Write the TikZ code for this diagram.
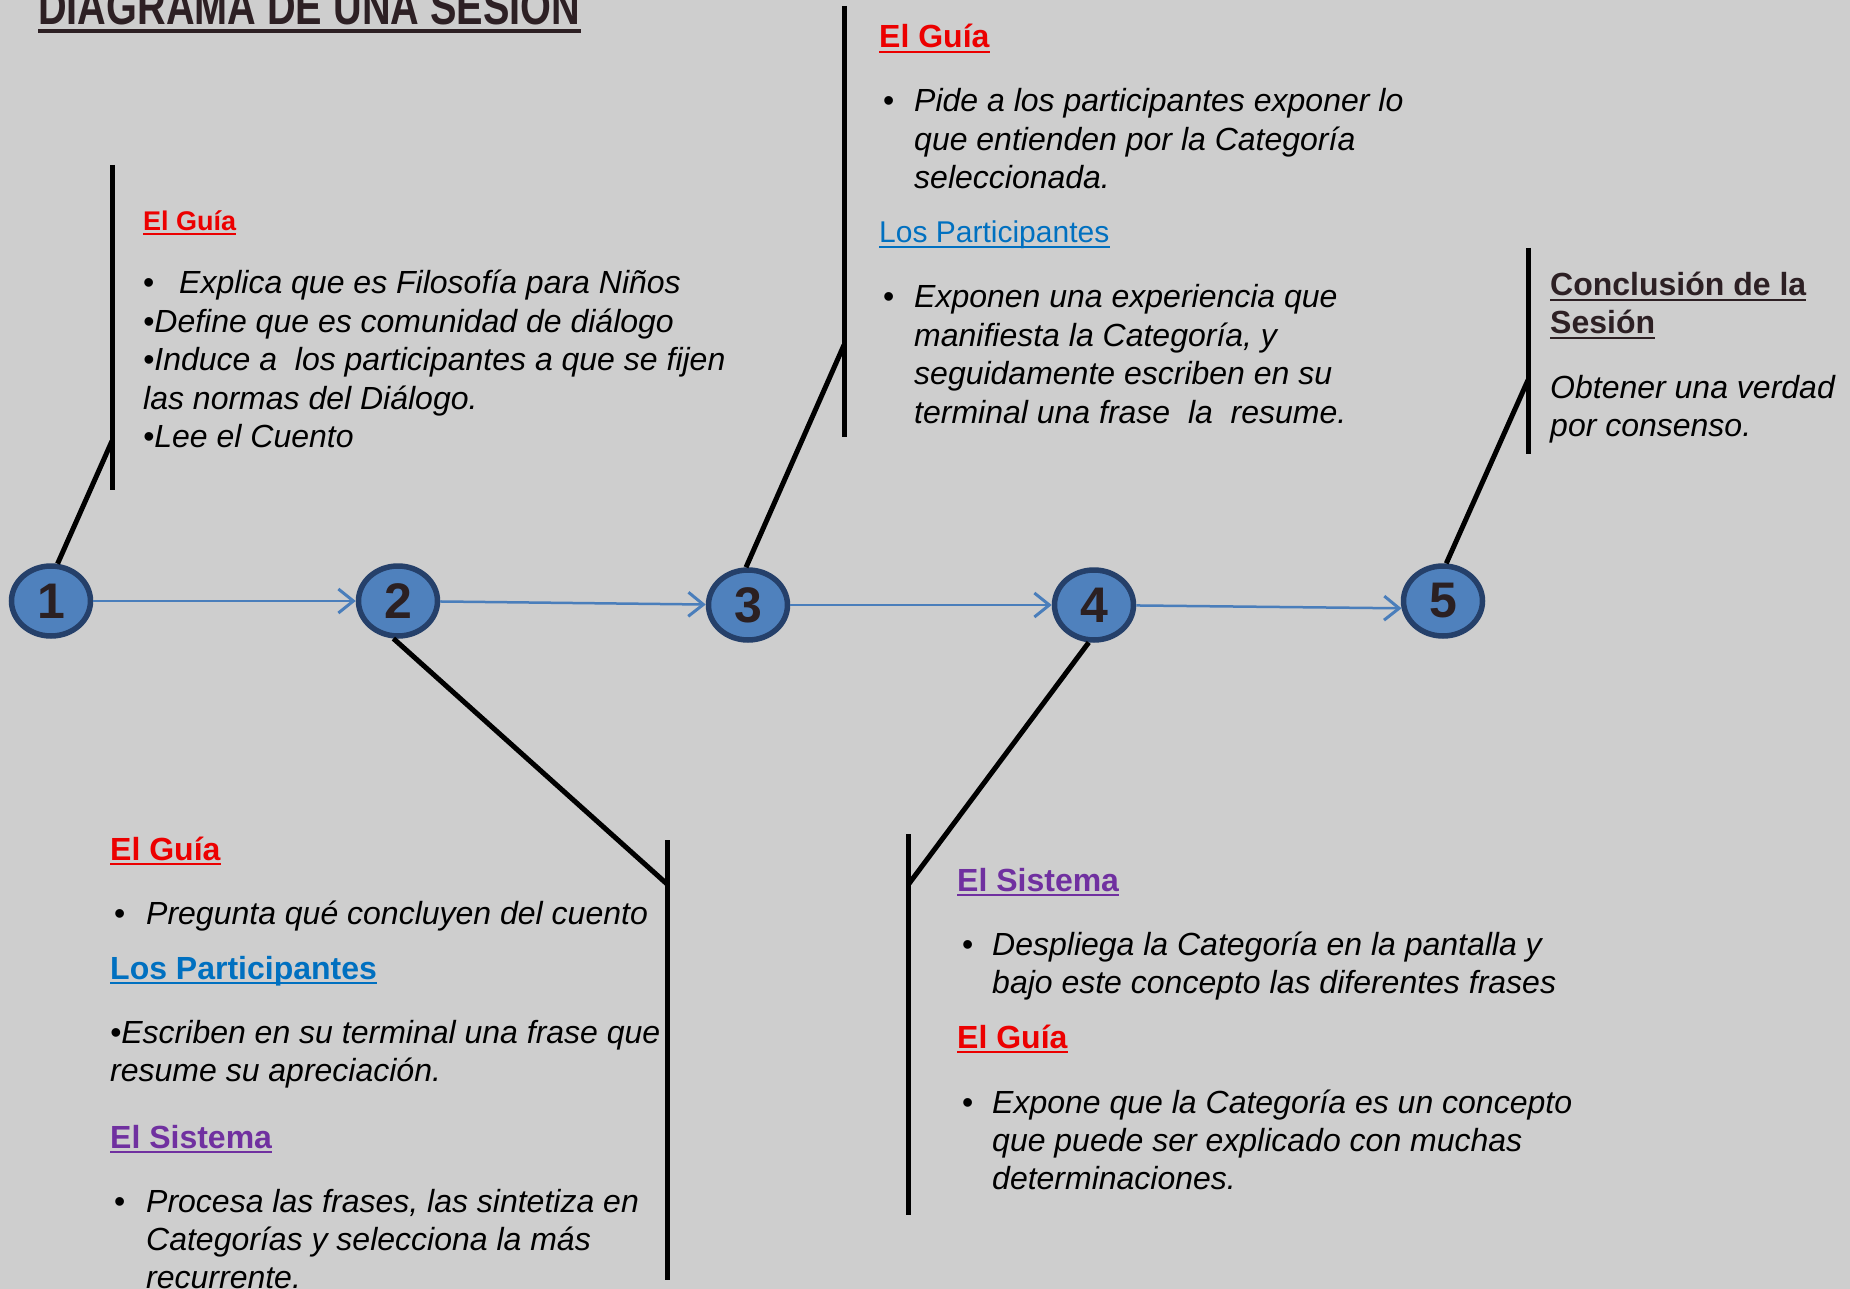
\documentclass[tikz,border=0pt]{standalone}
\usepackage{fontspec}
\usepackage{graphicx}
\setmainfont{Liberation Sans}
\usetikzlibrary{arrows.meta,shapes.geometric}
\definecolor{bg}{RGB}{206,206,206}
\definecolor{cfill}{RGB}{79,129,189}
\definecolor{cedge}{RGB}{37,64,106}
\definecolor{flowc}{RGB}{74,126,187}
\definecolor{numc}{RGB}{43,32,34}
\definecolor{hred}{RGB}{236,0,0}
\definecolor{hblue}{RGB}{0,112,192}
\definecolor{hpurple}{RGB}{112,48,160}
\definecolor{hdark}{RGB}{45,32,36}
\begin{document}
\begin{tikzpicture}[x=1pt,y=-1pt,
  stepnode/.style={ellipse, draw=cedge, line width=5.5pt, fill=cfill, minimum width=79pt, minimum height=70pt, inner sep=0pt, text=numc, font=\fontsize{50}{50}\selectfont\bfseries},
  flow/.style={draw=flowc, line width=2.5pt, -{Straight Barb[length=15pt,width=24pt,line width=3pt]}},
  stem/.style={draw=black, line width=5pt},
  body/.style={anchor=base west, inner sep=0pt, text=black, font=\fontsize{32}{38}\selectfont\itshape},
  bul/.style={anchor=base west, inner sep=0pt, text=black, font=\fontsize{32}{38}\selectfont},
  head/.style={anchor=base west, inner sep=0pt, font=\fontsize{32}{38}\selectfont\bfseries},
  uline/.style={line width=2.5pt}
]
\useasboundingbox (0,0) rectangle (1850,1289);
\fill[bg] (0,0) rectangle (1850,1289);
\clip (0,0) rectangle (1850,1289);

% title
\node[anchor=base west, inner sep=0pt, text=hdark] (title) at (38,25) {\resizebox{542pt}{36pt}{\bfseries DIAGRAMA DE UNA SESION}};
\draw[hdark, line width=3.5pt] ([yshift=-6pt]title.base west) -- ([yshift=-6pt]title.base east);

% steps
\node[stepnode] (c1) at (51,601) {1};
\node[stepnode] (c2) at (398,601) {2};
\node[stepnode] (c3) at (748,605) {3};
\node[stepnode] (c4) at (1094,605) {4};
\node[stepnode] (c5) at (1443,601) {5};

\draw[flow] (c1) -- (c2);
\draw[flow] (c2) -- (c3);
\draw[flow] (c3) -- (c4);
\draw[flow] (c4) -- (c5.190);

% stems
\coordinate (t1) at (112,165); \coordinate (b1) at (112,490); \coordinate (j1) at (112,441);
\coordinate (t2) at (667,840); \coordinate (b2) at (667,1280); \coordinate (j2) at (667,884);
\coordinate (t3) at (844,6);   \coordinate (b3) at (844,437); \coordinate (j3) at (844,345);
\coordinate (t4) at (908,834); \coordinate (b4) at (908,1215); \coordinate (j4) at (908,885);
\coordinate (t5) at (1528,248); \coordinate (b5) at (1528,454); \coordinate (j5) at (1528,380);
\draw[stem] (t1) -- (b1); \draw[stem] (c1.80) -- (j1);
\draw[stem] (t2) -- (b2); \draw[stem] (c2.-97) -- (j2);
\draw[stem] (t3) -- (b3); \draw[stem] (c3.93) -- (j3);
\draw[stem] (t4) -- (b4); \draw[stem] (c4.-98) -- (j4);
\draw[stem] (t5) -- (b5); \draw[stem] (c5.85) -- (j5);

% block 1
\node[head, text=hred, font=\fontsize{27}{32}\selectfont\bfseries] (a0) at (143,231) {El Guía};
\draw[hred, line width=2pt] ([yshift=-3.5pt]a0.base west) -- ([yshift=-3.5pt]a0.base east);
\node[bul] (a1b) at (143,294) {•};
\node[body] (a1) at (179,294) {Explica que es Filosofía para Niños};
\node[body] (a2) at (143,332.4) {•Define que es comunidad de diálogo};
\node[body] (a3) at (143,370.8) {•Induce a\ \ los participantes a que se fijen};
\node[body] (a4) at (143,409.2) {las normas del Diálogo.};
\node[body] (a5) at (143,447.6) {•Lee el Cuento};

% block 3
\node[head, text=hred] (g0) at (879,48) {El Guía};
\draw[hred, uline] ([yshift=-4pt]g0.base west) -- ([yshift=-4pt]g0.base east);
\node[bul] (g1b) at (883,112) {•};
\node[body] (g1) at (914,112) {Pide a los participantes exponer lo};
\node[body] (g2) at (914,150.4) {que entienden por la Categoría};
\node[body] (g3) at (914,188.8) {seleccionada.};
\node[head, text=hblue, font=\fontsize{30}{36}\selectfont] (g4) at (879,243) {Los Participantes};
\draw[hblue, uline] ([yshift=-4pt]g4.base west) -- ([yshift=-4pt]g4.base east);
\node[bul] (g5b) at (883,308) {•};
\node[body] (g5) at (914,308) {Exponen una experiencia que};
\node[body] (g6) at (914,346.4) {manifiesta la Categoría, y};
\node[body] (g7) at (914,384.8) {seguidamente escriben en su};
\node[body] (g8) at (914,423.2) {terminal una frase\ \ la\ \ resume.};

% block 5
\node[head, text=hdark] (k0) at (1550,296) {Conclusión de la};
\draw[hdark, uline] ([yshift=-4pt]k0.base west) -- ([yshift=-4pt]k0.base east);
\node[head, text=hdark] (k1) at (1550,334) {Sesión};
\draw[hdark, uline] ([yshift=-4pt]k1.base west) -- ([yshift=-4pt]k1.base east);
\node[body] (k2) at (1550,398) {Obtener una verdad};
\node[body] (k3) at (1550,436) {por consenso.};

% block 2
\node[head, text=hred] (e0) at (110,860) {El Guía};
\draw[hred, uline] ([yshift=-4pt]e0.base west) -- ([yshift=-4pt]e0.base east);
\node[bul] (e1b) at (114,924) {•};
\node[body] (e1) at (146,924) {Pregunta qué concluyen del cuento};
\node[head, text=hblue] (e2) at (110,979) {Los Participantes};
\draw[hblue, uline] ([yshift=-4pt]e2.base west) -- ([yshift=-4pt]e2.base east);
\node[body] (e3) at (110,1043) {•Escriben en su terminal una frase que};
\node[body] (e4) at (110,1081) {resume su apreciación.};
\node[head, text=hpurple] (e5) at (110,1148) {El Sistema};
\draw[hpurple, uline] ([yshift=-4pt]e5.base west) -- ([yshift=-4pt]e5.base east);
\node[bul] (e6b) at (114,1212) {•};
\node[body] (e6) at (146,1212) {Procesa las frases, las sintetiza en};
\node[body] (e7) at (146,1250.4) {Categorías y selecciona la más};
\node[body] (e8) at (146,1288.8) {recurrente.};

% block 4
\node[head, text=hpurple] (s0) at (957,891) {El Sistema};
\draw[hpurple, uline] ([yshift=-4pt]s0.base west) -- ([yshift=-4pt]s0.base east);
\node[bul] (s1b) at (962,955) {•};
\node[body] (s1) at (992,955) {Despliega la Categoría en la pantalla y};
\node[body] (s2) at (992,993.4) {bajo este concepto las diferentes frases};
\node[head, text=hred] (s3) at (957,1048) {El Guía};
\draw[hred, uline] ([yshift=-4pt]s3.base west) -- ([yshift=-4pt]s3.base east);
\node[bul] (s4b) at (962,1113) {•};
\node[body] (s4) at (992,1113) {Expone que la Categoría es un concepto};
\node[body] (s5) at (992,1151.4) {que puede ser explicado con muchas};
\node[body] (s6) at (992,1189.8) {determinaciones.};
\end{tikzpicture}
\end{document}
